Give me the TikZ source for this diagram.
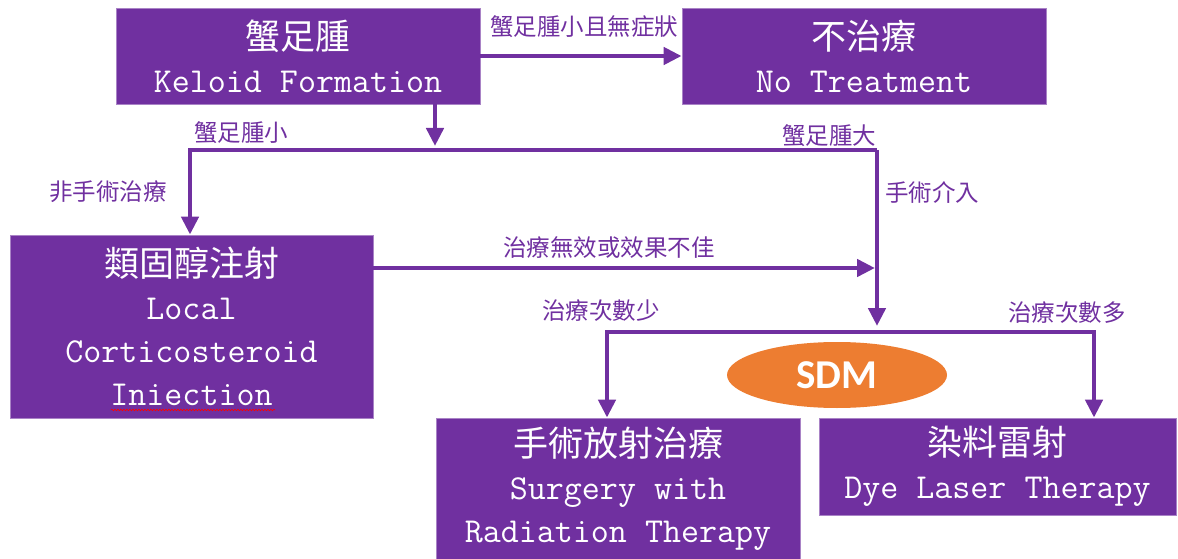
\documentclass[tikz,border=0pt]{standalone}
\usepackage{fontspec}
\newfontfamily\cjk{Noto Sans CJK TC}
\newfontfamily\sdmfont{Carlito}
\usetikzlibrary{arrows.meta,shapes.geometric,decorations.pathmorphing}
\definecolor{pp}{HTML}{7030A0}
\definecolor{og}{HTML}{ED7D31}
\tikzset{
  box/.style={rectangle, fill=pp, draw=pp!60!white, line width=0.8pt, text=white, align=center, inner sep=0pt,
    font=\fontsize{35}{43}\selectfont},
  lbl/.style={text=pp, inner sep=0pt, font=\cjk\fontsize{23.5}{26}\selectfont},
  conn/.style={draw=pp, line width=4.6pt, -{Triangle[width=17pt,length=18pt]}},
}
\begin{document}
\begin{tikzpicture}[x=1pt,y=-1pt]
\useasboundingbox (0,0) rectangle (1178,559);
% boxes
\node[box, minimum width=364pt, minimum height=96pt] (kel) at (298,56) {{\cjk 蟹足腫}\\\ttfamily Keloid Formation};
\node[box, minimum width=364pt, minimum height=96pt] (not) at (864,56) {{\cjk 不治療}\\\ttfamily No Treatment};
\node[box, minimum width=363pt, minimum height=183pt] (ster) at (191.5,326.5) {{\cjk 類固醇注射}\\\ttfamily Local\\\ttfamily Corticosteroid\\\ttfamily Iniection};
\node[box, minimum width=364pt, minimum height=141pt] (surg) at (618,488.5) {{\cjk 手術放射治療}\\\ttfamily Surgery with\\\ttfamily Radiation Therapy};
\node[box, minimum width=357pt, minimum height=97pt] (dye) at (997.5,466.5) {{\cjk 染料雷射}\\\ttfamily Dye Laser Therapy};
\node[ellipse, fill=og, minimum width=220pt, minimum height=66pt, inner sep=0pt, text=white, font=\sdmfont\bfseries\fontsize{41}{43}\selectfont] (sdm) at (837,375) {SDM};
% squiggle
\draw[red, line width=0.6pt, decorate, decoration={snake, amplitude=0.8pt, segment length=3pt}] (111,410) -- (275,410);
% coordinates
\coordinate (j1) at (435,146);
\coordinate (cL) at (190,150);
\coordinate (cR) at (877,150);
\coordinate (mR) at (875,268);
\coordinate (sp) at (877,326);
\coordinate (bL) at (607,332);
\coordinate (bR) at (1094,332);
\coordinate (bM) at (877,332);
% connectors
\draw[conn] (kel.east) -- (not.west);
\draw[conn] (kel.south -| j1) -- (j1);
\draw[conn] (cR) -- (cL) -- (ster.north -| cL);
\draw[conn] (cR) -- (sp);
\draw[conn] (ster.east |- mR) -- (mR);
\draw[conn] (bM) -- (bL) -- (surg.north -| bL);
\draw[conn] (bM) -- (bR) -- (dye.north -| bR);
% labels
\node[lbl] (l1) at (584,27) {蟹足腫小且無症狀};
\node[lbl] (l2) at (241,133) {蟹足腫小};
\node[lbl] (l3) at (829,136) {蟹足腫大};
\node[lbl] (l4) at (108,192) {非手術治療};
\node[lbl] (l5) at (932,193) {手術介入};
\node[lbl] (l6) at (609,248) {治療無效或效果不佳};
\node[lbl] (l7) at (601,311) {治療次數少};
\node[lbl] (l8) at (1067,313) {治療次數多};
\end{tikzpicture}
\end{document}
